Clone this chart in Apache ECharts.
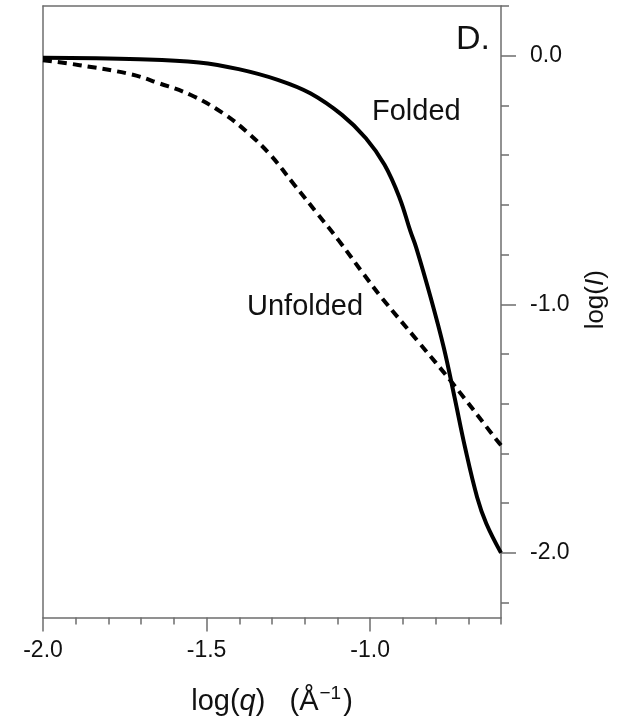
<!DOCTYPE html>
<html>
<head>
<meta charset="utf-8">
<script src="https://cdn.jsdelivr.net/npm/echarts@6/dist/echarts.min.js"></script>
<style>
html,body{margin:0;padding:0;background:#fff;}
#chart{width:623px;height:721px;}
</style>
</head>
<body>
<div id="chart"></div>
<script>
// ---- data ----
const foldedQ = [-2.0, -1.705, -1.523, -1.402, -1.280, -1.183, -1.086, -1.013, -0.956, -0.910, -0.877, -0.859, -0.815, -0.775, -0.742, -0.710, -0.673, -0.645, -0.6];
const foldedI = [-0.008, -0.014, -0.027, -0.054, -0.098, -0.151, -0.238, -0.332, -0.439, -0.572, -0.706, -0.773, -0.973, -1.174, -1.374, -1.575, -1.776, -1.882, -2.0];
const unfoldedQ = [-2.0, -1.888, -1.730, -1.645, -1.548, -1.450, -1.378, -1.305, -1.232, -1.159, -1.098, -1.019, -0.965, -0.855, -0.746, -0.612, -0.6];
const unfoldedI = [-0.018, -0.038, -0.075, -0.111, -0.158, -0.231, -0.305, -0.399, -0.519, -0.639, -0.740, -0.880, -0.973, -1.147, -1.321, -1.548, -1.567];
const xLabelValues = [-2.0, -1.5, -1.0];
const xMajorTicks = [-2.0, -1.5, -1.0];
const yLabelValues = [0.0, -1.0, -2.0];
const yMajorTicks = [0.0, -1.0, -2.0];
const yMinorTicks = [0.2, 0.0, -0.2, -0.4, -0.6, -0.8, -1.0, -1.2, -1.4, -1.6, -1.8, -2.0, -2.2];
const seriesNames = ['Folded', 'Unfolded'];

const zip = (a, b) => a.map((v, i) => [v, b[i]]);
const AX = '#6e6e6e';
const FONT = '"Liberation Sans", Arial, Helvetica, sans-serif';

const chart = echarts.init(document.getElementById('chart'), null, {renderer: 'canvas'});
chart.setOption({
  backgroundColor: '#ffffff',
  animation: false,
  textStyle: {fontFamily: FONT, color: '#111'},
  grid: {left: 43, right: 122, top: 6, bottom: 101},
  xAxis: [
    {
      type: 'value', position: 'bottom', min: -2, max: -0.6, interval: 0.1,
      axisLine: {show: true, onZero: false, lineStyle: {color: AX, width: 1.5}},
      axisTick: {show: true, length: 7, lineStyle: {color: AX, width: 1.5}},
      axisLabel: {show: true, customValues: xLabelValues, margin: 22, fontSize: 23, color: '#111', fontFamily: FONT,
        formatter: v => v.toFixed(1)},
      splitLine: {show: false},
      name: '{n|log(}{i|q}{n|)   (Å}{s|−1}{n|)}',
      nameLocation: 'middle', nameGap: 67,
      nameTextStyle: {
        fontFamily: FONT, color: '#111',
        rich: {
          n: {fontSize: 29, fontFamily: FONT, color: '#111'},
          i: {fontSize: 29, fontFamily: FONT, fontStyle: 'italic', color: '#111'},
          s: {fontSize: 19, fontFamily: FONT, color: '#111', padding: [0, 2, 15, 1]}
        }
      }
    },
    {
      type: 'value', position: 'bottom', min: -2, max: -0.6,
      axisLine: {show: false, onZero: false},
      axisTick: {show: true, length: 14, customValues: xMajorTicks, lineStyle: {color: AX, width: 1.5}},
      axisLabel: {show: false},
      splitLine: {show: false}
    },
    {
      type: 'value', position: 'top', min: -2, max: -0.6,
      axisLine: {show: true, onZero: false, lineStyle: {color: AX, width: 1.5}},
      axisTick: {show: false}, axisLabel: {show: false}, splitLine: {show: false}
    }
  ],
  yAxis: [
    {
      type: 'value', position: 'right', min: -2.26, max: 0.2,
      axisLine: {show: true, onZero: false, lineStyle: {color: AX, width: 1.5}},
      axisTick: {show: true, length: 8, customValues: yMinorTicks, lineStyle: {color: AX, width: 1.5}},
      axisLabel: {show: true, customValues: yLabelValues, margin: 29, fontSize: 23, color: '#111', fontFamily: FONT,
        formatter: v => v.toFixed(1)},
      splitLine: {show: false},
      name: '{n|log(}{i|I}{n|)}',
      nameLocation: 'middle', nameGap: 82, nameRotate: 90,
      nameTextStyle: {
        fontFamily: FONT, color: '#111', padding: [0, 0, 0, 24],
        rich: {
          n: {fontSize: 26, fontFamily: FONT, color: '#111'},
          i: {fontSize: 26, fontFamily: FONT, fontStyle: 'italic', color: '#111'}
        }
      }
    },
    {
      type: 'value', position: 'right', min: -2.26, max: 0.2,
      axisLine: {show: false, onZero: false},
      axisTick: {show: true, length: 15, customValues: yMajorTicks, lineStyle: {color: AX, width: 1.5}},
      axisLabel: {show: false}, splitLine: {show: false}
    },
    {
      type: 'value', position: 'left', min: -2.26, max: 0.2,
      axisLine: {show: true, onZero: false, lineStyle: {color: AX, width: 1.5}},
      axisTick: {show: false}, axisLabel: {show: false}, splitLine: {show: false}
    }
  ],
  series: [
    {
      name: seriesNames[0], type: 'line', xAxisIndex: 0, yAxisIndex: 0,
      data: zip(foldedQ, foldedI), smooth: 0.4, showSymbol: false, symbol: 'none',
      lineStyle: {color: '#000', width: 4, type: 'solid'}
    },
    {
      name: seriesNames[1], type: 'line', xAxisIndex: 0, yAxisIndex: 0,
      data: zip(unfoldedQ, unfoldedI), smooth: 0.4, showSymbol: false, symbol: 'none',
      lineStyle: {color: '#000', width: 4, type: [9, 6]}
    }
  ],
  graphic: [
    {type: 'text', left: 456, top: 23, style: {text: 'D.', fontSize: 34, fontFamily: FONT, fill: '#111'}},
    {type: 'text', left: 372, top: 97, style: {text: seriesNames[0], fontSize: 29, fontFamily: FONT, fill: '#111'}},
    {type: 'text', left: 247, top: 292, style: {text: seriesNames[1], fontSize: 29, fontFamily: FONT, fill: '#111'}}
  ]
});
</script>
</body>
</html>
